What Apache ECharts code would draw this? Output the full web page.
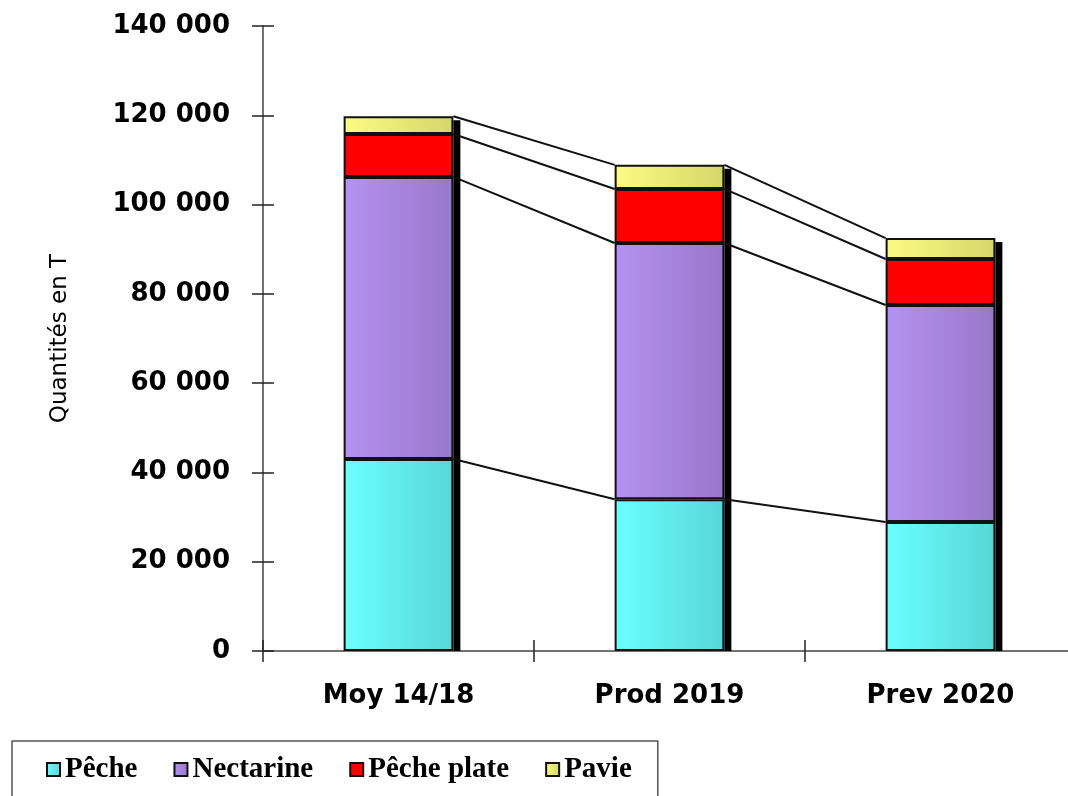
<!DOCTYPE html>
<html>
<head>
<meta charset="utf-8">
<script src="https://cdn.jsdelivr.net/npm/echarts@6/dist/echarts.min.js"></script>
<style>
  html, body { margin: 0; padding: 0; background: #fff; }
  #graph { width: 1068px; height: 796px; }
</style>
</head>
<body>
<div id="graph"></div>
<script>
var categories = ['Moy 14/18', 'Prod 2019', 'Prev 2020']
var peche = [43000, 34000, 28900]
var nectarine = [63200, 57400, 48600]
var pechePlate = [9600, 12100, 10300]
var pavie = [4000, 5400, 4700]

var layers = [peche, nectarine, pechePlate, pavie]
var barRatio = 0.405

function fmt(v) {
  return String(Math.round(v)).replace(/\B(?=(\d{3})+(?!\d))/g, ' ')
}

function grad(c1, c2) {
  return new echarts.graphic.LinearGradient(0, 0, 1, 0, [
    { offset: 0, color: c1 },
    { offset: 1, color: c2 }
  ])
}

function barStyle(color) {
  return { color: color, borderColor: '#111', borderWidth: 2 }
}

function total(i) {
  var s = 0
  for (var k = 0; k < layers.length; k++) s += layers[k][i]
  return s
}

var labelFont = { fontFamily: 'DejaVu Sans', fontWeight: 'bold', fontSize: 26, color: '#000' }
var tickStyle = { color: '#222', width: 1.5 }

var myChart = echarts.init(document.getElementById('graph'))
var option = {
  animation: false,
  backgroundColor: '#fff',
  legend: {
    left: 12,
    top: 741,
    padding: [14, 26, 40, 34],
    borderColor: '#555',
    borderWidth: 1.5,
    itemGap: 36,
    itemWidth: 13,
    itemHeight: 13,
    icon: 'rect',
    textStyle: { fontFamily: 'Liberation Serif', fontWeight: 'bold', fontSize: 29, color: '#000' },
    data: ['Pêche', 'Nectarine', 'Pêche plate', 'Pavie']
  },
  grid: {
    left: 263,
    right: -8,
    top: 26,
    bottom: 145,
    outerBoundsMode: 'none'
  },
  xAxis: [
    {
      type: 'category',
      data: categories,
      axisLine: { show: true, lineStyle: { color: '#444', width: 1.5 } },
      axisTick: { show: true, length: 11, lineStyle: tickStyle },
      axisLabel: Object.assign({ margin: 32 }, labelFont)
    },
    {
      type: 'category',
      data: categories,
      position: 'bottom',
      axisLine: { show: false },
      axisTick: { show: true, inside: true, length: 11, lineStyle: tickStyle },
      axisLabel: { show: false }
    }
  ],
  yAxis: [
    {
      type: 'value',
      min: 0,
      max: 140000,
      interval: 20000,
      name: 'Quantités en T',
      nameLocation: 'middle',
      nameGap: 191,
      nameTextStyle: { fontFamily: 'DejaVu Sans', fontSize: 23, color: '#000' },
      axisLine: { show: true, lineStyle: { color: '#444', width: 1.5 } },
      axisTick: { show: true, length: 11, lineStyle: tickStyle },
      splitLine: { show: false },
      axisLabel: Object.assign({ margin: 33, formatter: fmt }, labelFont)
    },
    {
      type: 'value',
      min: 0,
      max: 140000,
      interval: 20000,
      position: 'left',
      axisLine: { show: false },
      axisTick: { show: true, inside: true, length: 11, lineStyle: tickStyle },
      splitLine: { show: false },
      axisLabel: { show: false }
    }
  ],
  series: [
    {
      name: 'Pêche',
      type: 'bar',
      stack: 'total',
      z: 3,
      barWidth: (barRatio * 100) + '%',
      itemStyle: barStyle(grad('#6bffff', '#58d6d6')),
      data: peche
    },
    {
      name: 'Nectarine',
      type: 'bar',
      stack: 'total',
      z: 3,
      itemStyle: barStyle(grad('#b492f2', '#9878c8')),
      data: nectarine
    },
    {
      name: 'Pêche plate',
      type: 'bar',
      stack: 'total',
      z: 3,
      itemStyle: barStyle('#ff0000'),
      data: pechePlate
    },
    {
      name: 'Pavie',
      type: 'bar',
      stack: 'total',
      z: 3,
      itemStyle: barStyle(grad('#fbfb84', '#d6d66a')),
      data: pavie
    },
    {
      // black drop shadow of each bar + series lines between bars
      type: 'custom',
      z: 1,
      silent: true,
      data: [[0], [1], [2]],
      renderItem: function (params, api) {
        var i = params.dataIndex
        var half = api.size([1, 0])[0] * barRatio / 2
        var children = []
        var top = api.coord([i, total(i)])
        var base = api.coord([i, 0])
        children.push({
          type: 'rect',
          shape: { x: top[0] + half, y: top[1] + 4, width: 7, height: base[1] - top[1] - 4 },
          style: { fill: '#000' }
        })
        if (i < categories.length - 1) {
          var cumA = 0
          var cumB = 0
          for (var k = 0; k < layers.length; k++) {
            cumA += layers[k][i]
            cumB += layers[k][i + 1]
            var p1 = api.coord([i, cumA])
            var p2 = api.coord([i + 1, cumB])
            children.push({
              type: 'line',
              shape: { x1: p1[0] + half, y1: p1[1], x2: p2[0] - half, y2: p2[1] },
              style: { stroke: '#111', lineWidth: 2 }
            })
          }
        }
        return { type: 'group', children: children }
      }
    }
  ]
}
myChart.setOption(option)
</script>
</body>
</html>
